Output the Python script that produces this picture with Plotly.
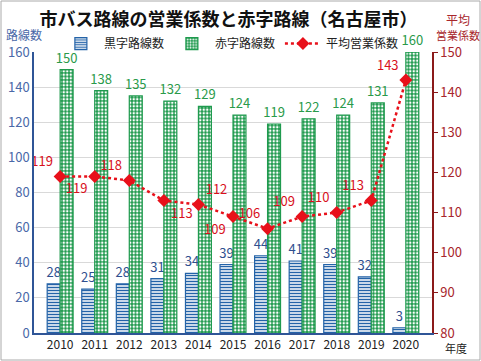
import plotly.graph_objects as go

years = ["2010", "2011", "2012", "2013", "2014", "2015", "2016", "2017", "2018", "2019", "2020"]
black_routes = [28, 25, 28, 31, 34, 39, 44, 41, 39, 32, 3]
red_routes = [150, 138, 135, 132, 129, 124, 119, 122, 124, 131, 160]
avg_coef = [119, 119, 118, 113, 112, 109, 106, 109, 110, 113, 143]
avg_label_pos = ["top left", "bottom left", "top left", "bottom right", "top right",
                 "bottom left", "top left", "top left", "top left", "top left", "top left"]

FONT = "Noto Sans CJK JP"
BLUE = "#2463a8"
GREEN = "#1f9a4e"
RED = "#e8101a"
LBLUE = "#4a68a8"
DRED = "#a8262c"

fig = go.Figure()
fig.add_trace(go.Bar(
    x=years, y=black_routes, name="黒字路線数",
    marker=dict(color="white", line=dict(color=BLUE, width=1.2),
                pattern=dict(shape="-", fgcolor=BLUE, bgcolor="white", size=3, solidity=0.5, fillmode="replace")),
    text=black_routes, textposition="outside", cliponaxis=False, constraintext="none",
    textfont=dict(color="#2f4f8f", size=13, family=FONT),
))
fig.add_trace(go.Bar(
    x=years, y=red_routes, name="赤字路線数",
    marker=dict(color=GREEN, line=dict(color=GREEN, width=1.2),
                pattern=dict(shape=".", fgcolor="white", bgcolor=GREEN, size=3.5, solidity=0.4, fillmode="replace")),
    text=red_routes, textposition="outside", cliponaxis=False, constraintext="none",
    textfont=dict(color="#2a9a4a", size=13, family=FONT),
))
fig.add_trace(go.Scatter(
    x=years, y=avg_coef, name="平均営業係数", yaxis="y2", mode="lines+markers+text",
    line=dict(color=RED, width=2.5, dash="dot"),
    marker=dict(symbol="diamond", size=10, color=RED),
    text=avg_coef, textposition=avg_label_pos, cliponaxis=False,
    textfont=dict(color="#d8101c", size=13, family=FONT),
))

fig.update_layout(
    width=481, height=361,
    margin=dict(l=34, r=49, t=52, b=28, autoexpand=False),
    paper_bgcolor="white", plot_bgcolor="white",
    font=dict(family=FONT, size=12, color="#222"),
    barmode="group", bargap=0.25, bargroupgap=0,
    title=dict(text="<b>市バス路線の営業係数と赤字路線（名古屋市）</b>", x=0.475, xanchor="center",
               y=0.945, yanchor="middle", font=dict(size=18, color="#111", family=FONT)),
    legend=dict(orientation="h", x=0.06, xanchor="left", y=1.03, yanchor="middle",
                font=dict(size=12, color="#222"), bgcolor="rgba(0,0,0,0)",
                itemwidth=36, tracegroupgap=0),
    showlegend=True,
    xaxis=dict(type="category", showline=True, linecolor="#2f5597", linewidth=1.5, automargin=False,
               ticks="", tickfont=dict(size=12, color="#222"), showgrid=False),
    yaxis=dict(range=[0, 160], dtick=20, showgrid=True, gridcolor="#d9d9d9", gridwidth=1, automargin=False,
               showline=True, linecolor="#2f5597", linewidth=1.5, ticks="",
               tickfont=dict(size=13, color=LBLUE), zeroline=False),
    yaxis2=dict(range=[80, 150], dtick=10, overlaying="y", side="right", showgrid=False, automargin=False,
                showline=True, linecolor="#8b1a1a", linewidth=1.5, ticks="outside", ticklen=4,
                tickcolor="#8b1a1a", tickfont=dict(size=13, color=DRED), zeroline=False),
    annotations=[
        dict(text="路線数", xref="paper", yref="paper", x=-0.025, y=1.062, showarrow=False,
             font=dict(size=12, color=LBLUE), xanchor="center", yanchor="middle"),
        dict(text="平均", xref="paper", yref="paper", x=1.065, y=1.117, showarrow=False,
             font=dict(size=12, color=DRED), xanchor="center", yanchor="middle"),
        dict(text="営業係数", xref="paper", yref="paper", x=1.065, y=1.062, showarrow=False,
             font=dict(size=11, color=DRED), xanchor="center", yanchor="middle"),
        dict(text="年度", xref="paper", yref="paper", x=1.06, y=-0.055, showarrow=False,
             font=dict(size=11, color="#222"), xanchor="center", yanchor="middle"),
    ],
    shapes=[dict(type="rect", xref="paper", yref="paper",
                 x0=(1 - 34) / 398, x1=(480 - 34) / 398,
                 y0=(333 - 360) / 281, y1=(333 - 1) / 281,
                 line=dict(color="#aaaaaa", width=1), layer="below")],
)

fig.write_html("out.html", config={"displayModeBar": False},
               post_script="document.body.style.margin='0';document.body.style.overflow='hidden';")
